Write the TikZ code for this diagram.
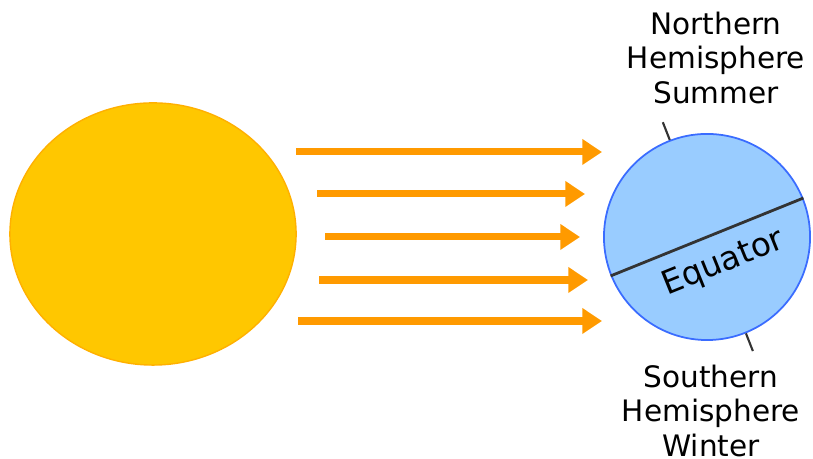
\documentclass[tikz,border=0pt]{standalone}
\usepackage{fontspec}
\setmainfont{DejaVu Sans}
\usetikzlibrary{shapes.geometric,arrows.meta}

\definecolor{sunfill}{HTML}{FFC700}
\definecolor{sunedge}{HTML}{FFB000}
\definecolor{rayorange}{HTML}{FF9A00}
\definecolor{earthfill}{HTML}{99CCFF}
\definecolor{earthedge}{HTML}{3A6CFF}
\definecolor{axisgrey}{HTML}{333333}

\tikzset{
  ray/.style={draw=rayorange, line width=2pt,
    -{Triangle[length=5.6pt, width=7pt]}},
  axisline/.style={draw=axisgrey, line width=0.6pt},
  season/.style={align=center, font=\fontsize{8.4}{9.9}\selectfont}
}

\begin{document}
\begin{tikzpicture}[x=0.01cm, y=0.01cm]
  \useasboundingbox (0,0) rectangle (813,459);

  % Sun
  \node[ellipse, fill=sunfill, draw=sunedge, line width=0.4pt,
        minimum width=2.86cm, minimum height=2.62cm] (sun) at (153,225) {};

  % Earth
  \node[circle, fill=earthfill, draw=earthedge, line width=0.5pt,
        minimum size=2.06cm, inner sep=0pt] (earth) at (707,222) {};

  % Sun rays
  \foreach \n/\y/\xs/\xe in {1/307/296/602, 2/265/317/585, 3/222/325/580,
                             4/179/319/588, 5/138/298/602} {
    \coordinate (ray\n s) at (\xs,\y);
    \coordinate (ray\n e) at (\xe,\y);
    \draw[ray] (ray\n s) -- (ray\n e);
  }

  % Axis stubs at the poles
  \draw[axisline] (earth.111.4) -- ++(111.4:19) coordinate (npole);
  \draw[axisline] (earth.-68.6) -- ++(-68.6:19) coordinate (spole);

  % Equator
  \draw[axisline, line width=0.8pt] (earth.202.6) -- (earth.22.6)
    node[midway, sloped, below, inner sep=4pt, xshift=1.5pt,
         font=\fontsize{9.3}{11}\selectfont] (eqlabel) {Equator};

  % Season labels
  \node[season] (north) at (716,401) {Northern\\Hemisphere\\Summer};
  \node[season] (south) at (711,48) {Southern\\Hemisphere\\Winter};
\end{tikzpicture}
\end{document}
